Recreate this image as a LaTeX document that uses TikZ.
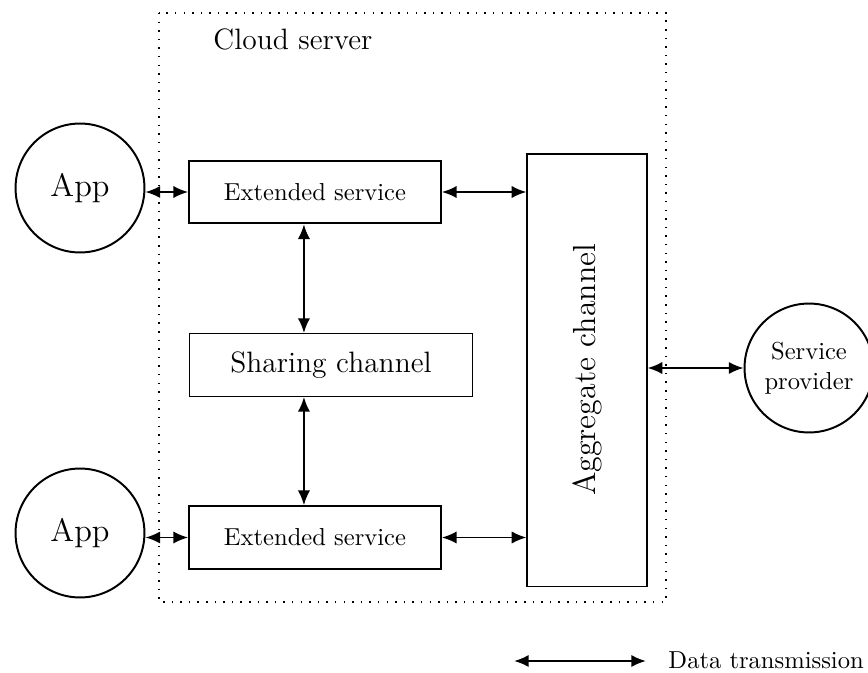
\documentclass[tikz,border=0pt]{standalone}
\usepackage{tikz}
\usepackage{amsmath}
\usetikzlibrary{arrows.meta}

\begin{document}
\begin{tikzpicture}[x=0.4072pt,y=-0.4072pt,>={Latex[length=6pt,width=5pt]}]
			\tikzstyle{block} = [rectangle, draw=black, thick, minimum width=102.5pt, minimum height=25.5pt, inner sep=0pt];
			\tikzstyle{share} = [rectangle, draw=black, minimum width=115.2pt, minimum height=25.6pt, inner sep=0pt, font=\large];
			\tikzstyle{agg} = [rectangle, draw=black, thick, minimum width=48.5pt, minimum height=176.3pt, inner sep=0pt, font=\fontsize{13}{16}\selectfont];
			\tikzstyle{user} = [circle, draw=black, thick, minimum size=52.5pt, inner sep=0pt, align=center];
			\tikzstyle{link} = [draw=black, thick, <->];
			\useasboundingbox (0,0) rectangle (868,673);
			\draw [line width=0.6pt, dash pattern=on 0.6pt off 2.9pt] (159,13) rectangle (666,602);
			\draw node [anchor=base west, inner sep=0pt, font=\large] (cloud) at (213,49) {Cloud server};
			\draw node [user, font=\fontsize{13.2}{16}\selectfont] (app1) at (80,188) {App};
			\draw node [user, font=\fontsize{13.2}{16}\selectfont] (app2) at (80,533) {App};
			\draw node [block] (ext1) at (315,192) {Extended service};
			\draw node [block] (ext2) at (315,537.5) {Extended service};
			\draw node [share] (share) at (331,365) {Sharing channel};
			\draw node [agg] (agg) at (587,370) {\rotatebox{90}{Aggregate channel}};
			\draw node [user] (prov) at (809,368) {Service\\provider};
			
			\draw [link] (app1.east |- ext1.west) -- (ext1.west);
			\draw [link] (app2.east |- ext2.west) -- (ext2.west);
			\draw [link] (ext1.east) -- (ext1.east -| agg.west);
			\draw [link] (ext2.east) -- (ext2.east -| agg.west);
			\draw [link] ([xshift=-4.5pt]ext1.south) -- ([xshift=-4.5pt]ext1.south |- share.north);
			\draw [link] ([xshift=-4.5pt]ext2.north) -- ([xshift=-4.5pt]ext2.north |- share.south);
			\draw [link] (prov.west -| agg.east) -- (prov.west);
			% legend
			\coordinate (legA) at (514,661);
			\coordinate (legB) at (646,661);
			\draw [link] (legA) -- (legB);
			\draw node [anchor=base west, inner sep=0pt] (legend) at (668,668) {Data transmission};
		\end{tikzpicture}
\end{document}
